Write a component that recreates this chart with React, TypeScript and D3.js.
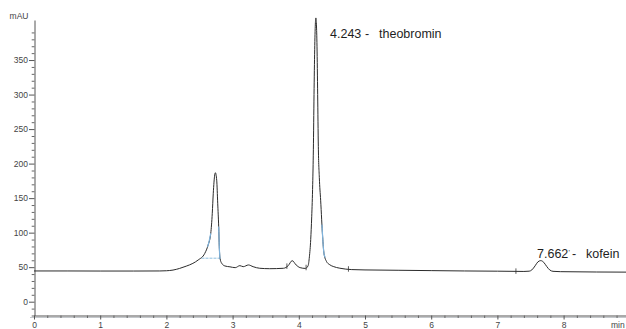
import { useEffect, useRef } from 'react';
import * as d3 from 'd3';

// chromatogram trace (time in min, signal in mAU)
const traceTime = [
  0.0, 0.5, 1.0, 1.5, 1.9, 2.0, 2.1, 2.2, 2.3, 2.4, 2.48, 2.58, 2.63, 2.67, 2.693, 2.708,
  2.73, 2.74, 2.76, 2.775, 2.79, 2.799, 2.81, 2.835, 2.885, 2.96, 3.04, 3.11, 3.16, 3.24,
  3.31, 3.41, 3.56, 3.77, 3.84, 3.9, 3.96, 4.02, 4.1, 4.14, 4.16, 4.18, 4.195, 4.21, 4.22,
  4.23, 4.24, 4.25, 4.258, 4.266, 4.275, 4.285, 4.295, 4.31, 4.33, 4.36, 4.38, 4.42, 4.46,
  4.52, 4.62, 4.8, 5.0, 5.5, 6.0, 6.5, 7.0, 7.4, 7.48, 7.52, 7.57, 7.61, 7.655, 7.7, 7.745,
  7.79, 7.84, 7.95, 8.5, 9.0,
];
const traceMAU = [
  44.5, 44.5, 44.4, 44.4, 44.5, 44.8, 45.8, 48.2, 51.5, 55.5, 60.4, 70, 82, 99, 128, 157,
  183.6, 186.8, 176, 142.6, 108.7, 79.7, 62.9, 55.7, 51.7, 50.5, 49.3, 52.2, 50.7, 53.2,
  50.7, 48.4, 47.8, 48.4, 52.2, 59.4, 53.2, 49.3, 48.2, 52, 65, 90, 123, 170, 220,
  300, 365, 402, 411, 402, 370, 300, 225, 180, 147, 94, 70, 58, 54,
  51, 48.5, 46.5, 46, 45.5, 45, 44.5, 44.2, 43.8, 44.2, 46, 52, 57.5, 59.5, 57, 51,
  46, 44, 43.5, 43, 42.8,
];

// integration marks (light blue)
const intBaseTime = [2.53, 2.81];
const intBaseMAU = [63, 63];
const intOverlayRanges = [[2.62, 2.67], [2.79, 2.812], [4.35, 4.4]];
// peak start / end markers
const markerTimes = [3.82, 4.11, 4.75, 7.28];

// axes
const xMajorTicks = [0, 1, 2, 3, 4, 5, 6, 7, 8];
const yMajorTicks = [0, 50, 100, 150, 200, 250, 300, 350];

// peak labels
const peakLabels = [
  { rt: '4.243', name: 'theobromin' },
  { rt: '7.662', name: 'kofein' },
];

const W = 626;
const H = 329;
const FONT = '"Liberation Sans", Arial, sans-serif';

function Chromatogram() {
  const svgRef = useRef<SVGSVGElement>(null);

  useEffect(() => {
    if (!svgRef.current) return;
    const svg = d3.select(svgRef.current);
    svg.selectAll('*').remove();

    const x = d3.scaleLinear().domain([0, 9]).range([34, 34 + 9 * 66.2]);
    const y = d3.scaleLinear().domain([-20, 408]).range([315.5, 20]);

    const points: [number, number][] = traceTime.map((t, i) => [t, traceMAU[i]]);
    const valueAt = (t: number) => {
      const i = d3.bisector((d: [number, number]) => d[0]).left(points, t);
      if (i <= 0) return points[0][1];
      if (i >= points.length) return points[points.length - 1][1];
      const [t0, v0] = points[i - 1];
      const [t1, v1] = points[i];
      return v0 + ((t - t0) / (t1 - t0)) * (v1 - v0);
    };

    // y axis: minor every 10, major every 50
    const yMinor = d3.range(-20, 401, 10).filter((v) => v % 50 !== 0);
    const yAxisMinor = svg.append('g').attr('transform', 'translate(34.5,0)')
      .call(d3.axisLeft(y).tickValues(yMinor).tickSize(2.8).tickSizeOuter(0).tickFormat(() => ''));
    yAxisMinor.select('.domain').attr('stroke', '#555');
    yAxisMinor.selectAll('line').attr('stroke', '#666');

    const yAxis = svg.append('g').attr('transform', 'translate(34.5,0)')
      .call(d3.axisLeft(y).tickValues(yMajorTicks).tickSize(5.5).tickPadding(1).tickSizeOuter(0));
    yAxis.select('.domain').remove();
    yAxis.selectAll('line').attr('stroke', '#555');
    yAxis.selectAll('text')
      .attr('font-family', FONT).attr('font-size', 8.5).attr('fill', '#444');

    svg.append('text')
      .attr('x', 28.5).attr('y', 18.5)
      .attr('text-anchor', 'end')
      .attr('font-family', FONT).attr('font-size', 8.5).attr('fill', '#444')
      .text('mAU');

    // x axis
    const xMinor = d3.range(0, 9.01, 0.2).filter((t) => Math.abs(t - Math.round(t)) > 0.01);
    svg.append('line')
      .attr('x1', 30).attr('x2', W).attr('y1', 317.5).attr('y2', 317.5)
      .attr('stroke', '#c4c8cc').attr('stroke-width', 1);
    const xAxisMinor = svg.append('g').attr('transform', 'translate(0,315.5)')
      .call(d3.axisBottom(x).tickValues(xMinor).tickSize(2.5).tickSizeOuter(0).tickFormat(() => ''));
    xAxisMinor.select('.domain').attr('stroke', '#555');
    xAxisMinor.selectAll('line').attr('stroke', '#666');

    const xAxis = svg.append('g').attr('transform', 'translate(0,315.5)')
      .call(d3.axisBottom(x).tickValues(xMajorTicks).tickSize(4).tickPadding(2.5).tickSizeOuter(0));
    xAxis.select('.domain').remove();
    xAxis.selectAll('line').attr('stroke', '#555');
    xAxis.selectAll('text')
      .attr('font-family', FONT).attr('font-size', 8.5).attr('fill', '#444');

    svg.append('text')
      .attr('x', 611).attr('y', 328)
      .attr('font-family', FONT).attr('font-size', 8.5).attr('fill', '#444')
      .text('min');

    const line = d3.line<[number, number]>()
      .x((d) => x(d[0]))
      .y((d) => y(d[1]))
      .curve(d3.curveMonotoneX);

    // integration baseline
    svg.append('path')
      .datum(intBaseTime.map((t, i) => [t, intBaseMAU[i]] as [number, number]))
      .attr('d', d3.line<[number, number]>().x((d) => x(d[0])).y((d) => y(d[1])))
      .attr('fill', 'none')
      .attr('stroke', '#8fbfe0')
      .attr('stroke-width', 1)
      .attr('stroke-dasharray', '3,1');

    // signal trace
    svg.append('path')
      .datum(points)
      .attr('d', line)
      .attr('fill', 'none')
      .attr('stroke', '#2b2b2b')
      .attr('stroke-width', 1)
      .attr('stroke-linejoin', 'round');

    // blue integration overlays on peak flanks
    intOverlayRanges.forEach(([a, b]) => {
      const seg: [number, number][] = [[a, valueAt(a)], ...points.filter((p) => p[0] > a && p[0] < b), [b, valueAt(b)]];
      svg.append('path')
        .datum(seg)
        .attr('d', line)
        .attr('fill', 'none')
        .attr('stroke', '#7fb3dc')
        .attr('stroke-width', 1.2);
    });

    // peak start/end markers
    markerTimes.forEach((t) => {
      const cy = y(valueAt(t));
      svg.append('line')
        .attr('x1', x(t)).attr('x2', x(t))
        .attr('y1', cy - 3).attr('y2', cy + 2.5)
        .attr('stroke', '#333').attr('stroke-width', 0.8);
    });

    // peak labels
    const labelPos = [
      { x: 330, y: 38, dash: 365, name: 379 },
      { x: 537, y: 258, dash: 572, name: 586 },
    ];
    peakLabels.forEach((p, i) => {
      const pos = labelPos[i];
      const txt = svg.append('text')
        .attr('y', pos.y)
        .attr('font-family', FONT).attr('font-size', 12.5).attr('fill', '#1e1e1e');
      txt.append('tspan').attr('x', pos.x).text(p.rt);
      if (i === 1) {
        txt.append('tspan').attr('x', pos.x + 31.5).attr('dy', -3).attr('font-size', 7).text("'");
        txt.append('tspan').attr('x', pos.dash).attr('dy', 3).text('-');
      } else {
        txt.append('tspan').attr('x', pos.dash).text('-');
      }
      txt.append('tspan').attr('x', pos.name).text(p.name);
    });
  }, []);

  return (
    <svg
      ref={svgRef}
      width={W}
      height={H}
      style={{ position: 'absolute', left: 0, top: 0, display: 'block', background: '#fff' }}
    />
  );
}

export default function App() {
  return <Chromatogram />;
}
